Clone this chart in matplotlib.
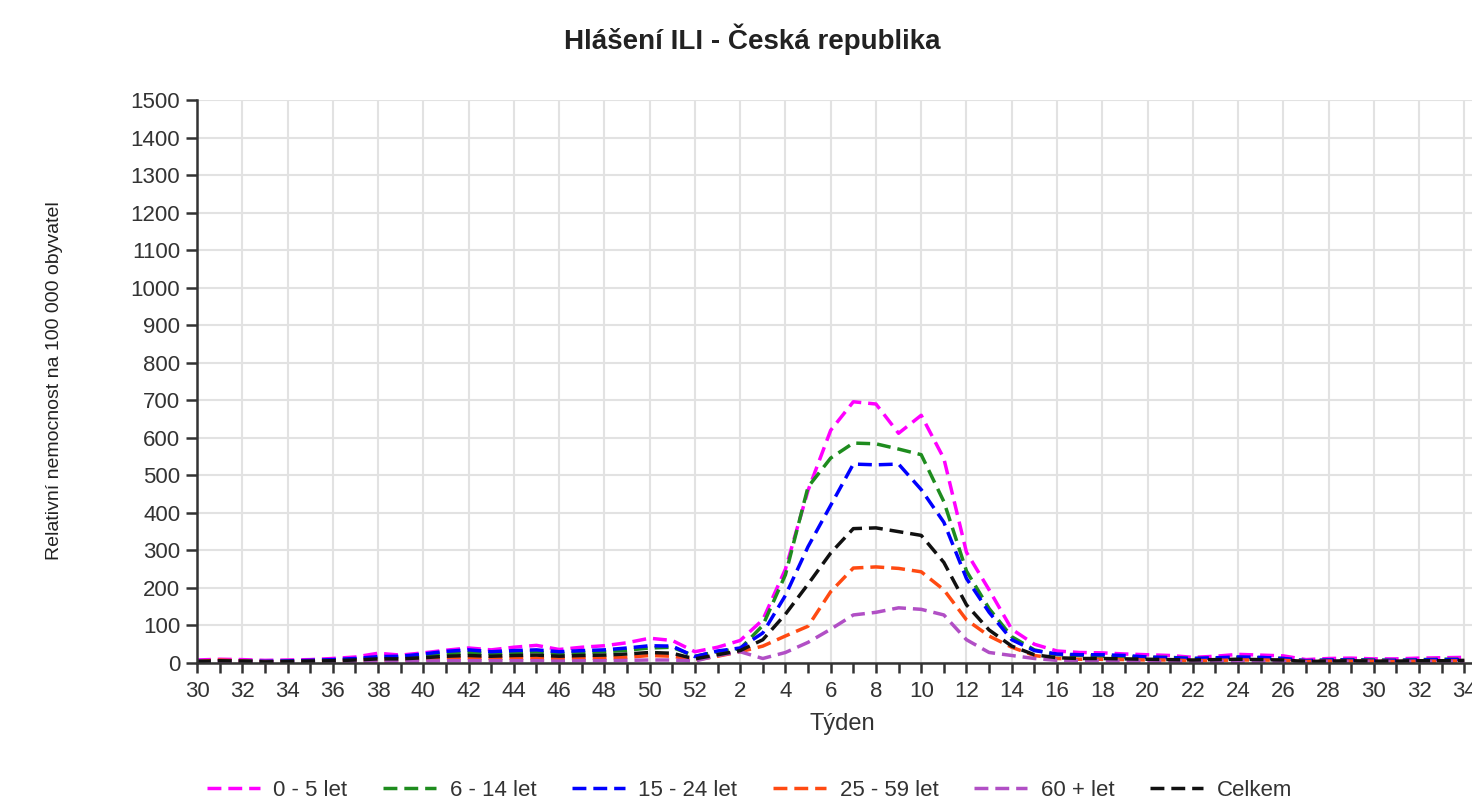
import matplotlib
matplotlib.use("Agg")
from matplotlib import pyplot as plt
import numpy as np

plt.rcParams['font.family'] = ['Liberation Sans', 'DejaVu Sans']

# weeks of the season (30/2010 ... 34/2011)
weeks = list(range(30, 53)) + list(range(1, 35))

age_0_5 = [8, 10, 9, 7, 8, 9, 12, 16, 26, 21, 27, 34, 40, 35, 42, 47, 36, 42, 46, 54, 66, 60, 30,
           42, 60, 115, 250, 460, 620, 696, 690, 612, 660, 545, 295, 195, 90, 50, 32, 28, 27, 24,
           22, 20, 15, 18, 23, 21, 19, 9, 12, 13, 11, 11, 13, 14, 15]
age_6_14 = [5, 6, 6, 4, 5, 6, 8, 10, 15, 15, 20, 25, 28, 25, 28, 30, 25, 28, 30, 34, 40, 42, 18,
            30, 38, 100, 235, 469, 546, 586, 584, 570, 555, 430, 245, 145, 70, 35, 22, 20, 18, 16,
            15, 15, 12, 13, 15, 14, 12, 6, 8, 9, 8, 7, 9, 10, 10]
age_15_24 = [6, 5, 5, 4, 5, 7, 9, 12, 17, 18, 24, 31, 35, 30, 33, 35, 30, 33, 35, 40, 46, 45, 17,
             32, 40, 80, 180, 310, 420, 530, 528, 530, 462, 375, 225, 135, 62, 33, 24, 22, 22, 20,
             16, 14, 12, 14, 16, 15, 12, 6, 8, 8, 7, 7, 8, 9, 9]
age_25_59 = [4, 8, 5, 3, 3, 4, 5, 6, 8, 8, 10, 12, 13, 12, 13, 13, 11, 12, 13, 15, 20, 18, 8,
             18, 30, 45, 72, 98, 190, 253, 256, 252, 243, 195, 115, 72, 42, 20, 12, 10, 10, 9,
             8, 8, 6, 7, 8, 8, 7, 4, 5, 5, 5, 4, 5, 5, 6]
age_60 = [3, 3, 3, 2, 2, 2, 3, 3, 4, 4, 5, 6, 6, 6, 6, 6, 5, 6, 6, 7, 8, 8, 5,
          20, 30, 12, 28, 55, 90, 128, 135, 147, 143, 128, 62, 28, 20, 12, 7, 6, 6, 5,
          5, 4, 4, 4, 4, 4, 4, 2, 3, 3, 3, 3, 3, 3, 3]
total = [4, 6, 5, 3, 4, 5, 6, 8, 11, 11, 14, 18, 20, 18, 20, 21, 18, 20, 21, 24, 28, 26, 11,
         22, 33, 62, 130, 210, 293, 358, 360, 350, 340, 268, 155, 88, 45, 22, 14, 12, 12, 11,
         10, 9, 8, 9, 10, 9, 8, 4, 5, 6, 5, 5, 6, 6, 7]

series = [
    ("0 - 5 let", age_0_5, "#ff00ff"),
    ("6 - 14 let", age_6_14, "#1e8c1e"),
    ("15 - 24 let", age_15_24, "#0000ff"),
    ("25 - 59 let", age_25_59, "#ff4a12"),
    ("60 + let", age_60, "#b14fc5"),
    ("Celkem", total, "#111111"),
]

fig = plt.figure(figsize=(14.72, 8.09), dpi=100)
ax = fig.add_axes([197 / 1472, 146 / 809, 1290 / 1472, 563 / 809])

x = np.arange(len(weeks))
for name, vals, col in series:
    ax.plot(x, vals, color=col, lw=2.5, dashes=(4, 2), label=name)

ax.set_xlim(0, 57)
ax.set_ylim(0, 1500)
ax.set_yticks(range(0, 1501, 100))
ax.set_xticks(x[::2])
ax.set_xticklabels([str(w) for w in weeks[::2]])
ax.set_xticks(x[1::2], minor=True)

ax.grid(True, color="#e2e2e2", lw=1.5)
ax.set_axisbelow(True)
for s in ["top", "right"]:
    ax.spines[s].set_visible(False)
for s in ["left", "bottom"]:
    ax.spines[s].set_color("#333333")
    ax.spines[s].set_linewidth(1.8)

ax.tick_params(axis="both", which="both", colors="#333333", labelsize=16, width=1.8)
ax.tick_params(axis="y", length=8, pad=4)
ax.tick_params(axis="x", which="both", length=7, pad=6)

fig.text(0.511, 0.951, "Hlášení ILI - Česká republika", ha="center", va="center",
         fontsize=20, fontweight="bold", color="#222222")
fig.text(0.572, 0.105, "Týden", ha="center", va="center", fontsize=17, color="#333333")
fig.text(0.037, 0.530, "Relativní nemocnost na 100 000 obyvatel", rotation=90,
         ha="center", va="center", fontsize=14, color="#222222",
         family=["Liberation Sans Narrow", "Liberation Sans", "DejaVu Sans"])

fig.legend(loc="center", bbox_to_anchor=(0.509, 0.023), ncol=6, frameon=False,
           fontsize=16, handlelength=2.4, columnspacing=1.6, handletextpad=0.6,
           labelcolor="#333333")

fig.savefig("out.png", dpi=100)
